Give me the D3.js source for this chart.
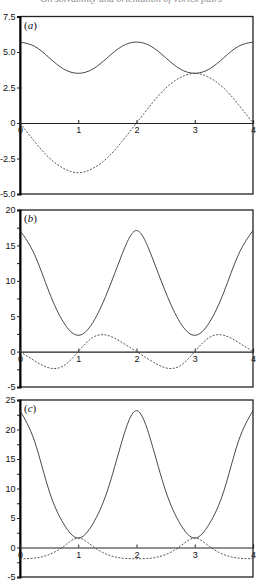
<!DOCTYPE html>
<html>
<head>
<meta charset="utf-8">
<script src="https://cdn.jsdelivr.net/npm/d3@7"></script>
<style>
  body { margin: 0; background: #fff; }
</style>
</head>
<body>
<div id="chart"></div>
<script>
// sample positions along x (shared by every curve)
const xs = [0, 0.25, 0.5, 0.75, 1, 1.25, 1.5, 1.75, 2, 2.25, 2.5, 2.75, 3, 3.25, 3.5, 3.75, 4];

// panel (a)
const solidA  = [5.7, 5.4, 4.6, 3.8, 3.5, 3.8, 4.6, 5.4, 5.7, 5.4, 4.6, 3.8, 3.5, 3.8, 4.6, 5.4, 5.7];
const dashedA = [0, -1.3, -2.45, -3.2, -3.5, -3.2, -2.45, -1.3, 0, 1.3, 2.45, 3.2, 3.5, 3.2, 2.45, 1.3, 0];
// panel (b)
const solidB  = [17.1, 13.7, 8.4, 4.1, 2.3, 4.1, 8.4, 13.7, 17.1, 13.7, 8.4, 4.1, 2.3, 4.1, 8.4, 13.7, 17.1];
const dashedB = [0, -1.3, -2.3, -2.0, 0, 2.0, 2.3, 1.3, 0, -1.3, -2.3, -2.0, 0, 2.0, 2.3, 1.3, 0];
// panel (c)
const solidC  = [23.2, 18.0, 9.6, 4.0, 1.6, 4.0, 9.6, 18.0, 23.2, 18.0, 9.6, 4.0, 1.6, 4.0, 9.6, 18.0, 23.2];
const dashedC = [-1.9, -1.8, -1.2, 0.2, 1.6, 0.2, -1.2, -1.8, -1.9, -1.8, -1.2, 0.2, 1.6, 0.2, -1.2, -1.8, -1.9];

// tick labels
const xTicks = [0, 1, 2, 3, 4];
const yTicksA = [-5, -2.5, 0, 2.5, 5, 7.5];
const yTicksB = [-5, 0, 5, 10, 15, 20];
const yTicksC = [-5, 0, 5, 10, 15, 20, 25];
const minorB = [-2.5, 2.5, 7.5, 12.5, 17.5];
const minorC = [-2.5, 2.5, 7.5, 12.5, 17.5, 22.5];
const panelLetters = ['a', 'b', 'c'];

const width = 258, height = 584;
const ink = '#222';

let svg = d3.select('#chart').append('svg')
    .attr('width', width)
    .attr('height', height)
    .style('font-family', '"Liberation Serif", "DejaVu Serif", serif');

// running head of the page, cut off by the crop
svg.append('text')
    .attr('x', 131)
    .attr('y', 2)
    .attr('text-anchor', 'middle')
    .attr('font-size', '10px')
    .attr('font-style', 'italic')
    .attr('fill', '#888')
    .text('On solvability and orientation of vortex pairs');

let x = d3.scaleLinear().domain([0, 4]).range([20, 253]);

const fmtA = (d) => d === 0 ? '0' : d.toFixed(1);
const fmtInt = (d) => String(d);

let panels = [
    { top: 16.5, bottom: 194, domain: [-5, 7.5], ticks: yTicksA, minor: [], fmt: fmtA, solid: solidA, dashed: dashedA },
    { top: 210, bottom: 387, domain: [-5, 20], ticks: yTicksB, minor: minorB, fmt: fmtInt, solid: solidB, dashed: dashedB },
    { top: 400, bottom: 577, domain: [-5, 25], ticks: yTicksC, minor: minorC, fmt: fmtInt, solid: solidC, dashed: dashedC }
];

panels.forEach((p, k) => {
    let y = d3.scaleLinear().domain(p.domain).range([p.bottom, p.top]);
    let g = svg.append('g');

    // frame
    g.append('rect')
        .attr('x', x(0))
        .attr('y', p.top)
        .attr('width', x(4) - x(0))
        .attr('height', p.bottom - p.top)
        .attr('fill', 'none')
        .attr('stroke', ink)
        .attr('stroke-width', 1.3);

    // minor ticks
    let minorAxis = d3.axisLeft(y).tickValues(p.minor).tickSize(3).tickFormat('');
    g.append('g')
        .attr('transform', `translate(${x(0)}, 0)`)
        .call(minorAxis)
        .call((a) => a.select('.domain').remove())
        .selectAll('line').attr('stroke', ink);

    // y axis
    let leftAxis = d3.axisLeft(y).tickValues(p.ticks).tickSize(3).tickPadding(1.5).tickFormat(p.fmt);
    let ya = g.append('g')
        .attr('transform', `translate(${x(0)}, 0)`)
        .call(leftAxis);
    ya.select('.domain').attr('stroke', '#000').attr('stroke-width', 2);
    ya.selectAll('line').attr('stroke', ink);
    ya.selectAll('text').attr('font-size', '9px').attr('fill', '#111');

    // x axis along y = 0
    let bottomAxis = d3.axisBottom(x).tickValues(xTicks).tickSize(-3).tickPadding(4).tickFormat(d3.format('d'));
    let xa = g.append('g')
        .attr('transform', `translate(0, ${y(0)})`)
        .call(bottomAxis);
    xa.select('.domain').attr('stroke', ink).attr('stroke-width', 1.2);
    xa.selectAll('line').attr('stroke', ink);
    xa.selectAll('text').attr('font-size', '9px').attr('fill', '#111');

    let line = d3.line()
        .x((d, i) => x(xs[i]))
        .y((d) => y(d))
        .curve(d3.curveNatural);

    g.append('path')
        .attr('d', line(p.solid))
        .attr('fill', 'none')
        .attr('stroke', '#333')
        .attr('stroke-width', 0.9);

    g.append('path')
        .attr('d', line(p.dashed))
        .attr('fill', 'none')
        .attr('stroke', '#444')
        .attr('stroke-width', 0.9)
        .attr('stroke-dasharray', '2,1.5');

    // panel label
    let lab = g.append('text')
        .attr('x', x(0) + 4)
        .attr('y', p.top + 12)
        .attr('font-size', '11px')
        .attr('fill', '#111');
    lab.append('tspan').text('(');
    lab.append('tspan').attr('font-style', 'italic').text(panelLetters[k]);
    lab.append('tspan').text(')');
});
</script>
</body>
</html>
